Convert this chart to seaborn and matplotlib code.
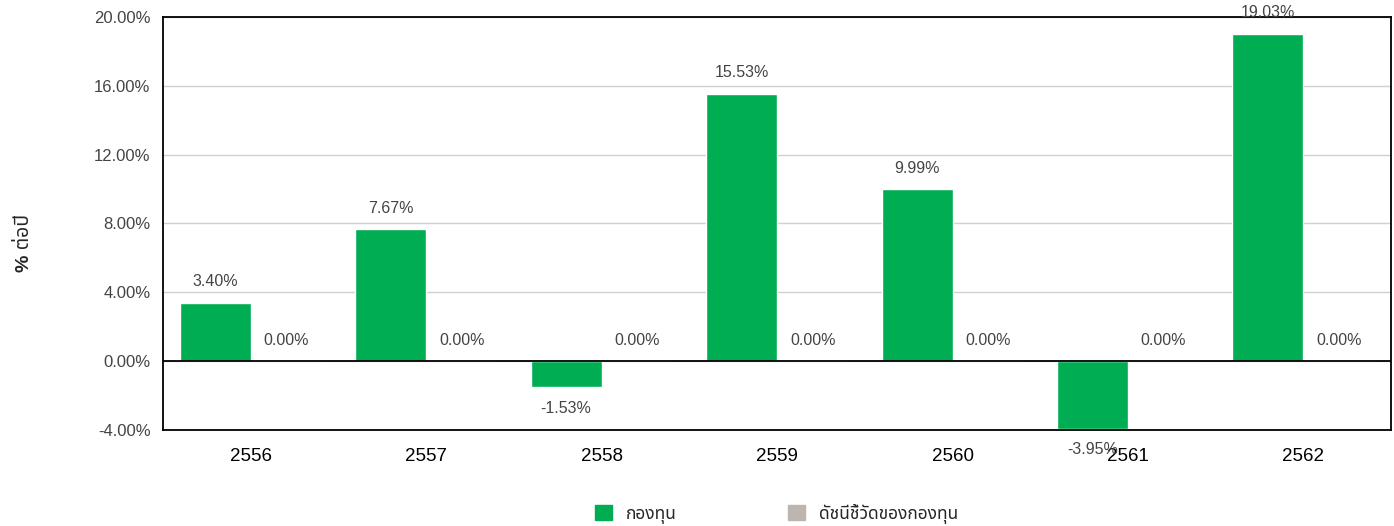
import matplotlib
matplotlib.use("Agg")
import matplotlib.pyplot as plt
import seaborn as sns
import pandas as pd

years = ["2556", "2557", "2558", "2559", "2560", "2561", "2562"]
fund = [3.40, 7.67, -1.53, 15.53, 9.99, -3.95, 19.03]
benchmark = [0.00, 0.00, 0.00, 0.00, 0.00, 0.00, 0.00]
series_names = ["กองทุน", "ดัชนีชี้วัดของกองทุน"]
y_ticks = [-4, 0, 4, 8, 12, 16, 20]
colors = ["#00AD52", "#BDB5AE"]

df = pd.DataFrame({
    "year": years * 2,
    "value": fund + benchmark,
    "series": [series_names[0]] * len(years) + [series_names[1]] * len(years),
})

sns.set_style("white")
plt.rcParams["font.family"] = ["Liberation Sans", "Noto Sans Thai", "DejaVu Sans"]

fig = plt.figure(figsize=(13.94, 5.26), dpi=100)
ax = fig.add_axes([0.117, 0.1825, 0.881, 0.7855])

sns.barplot(data=df, x="year", y="value", hue="series", palette=colors,
            saturation=1, width=0.81, ax=ax, legend=False)

ax.set_ylim(-4, 20)
ax.set_yticks(y_ticks)
ax.set_yticklabels([f"{t:.2f}%" for t in y_ticks], fontsize=12, color="#444444")
ax.tick_params(axis="x", labelsize=13.5, colors="black", length=0, pad=13)
ax.tick_params(axis="y", length=0, pad=9)
ax.grid(axis="y", color="#d0d0d0", linewidth=1)
ax.axhline(0, color="black", linewidth=1.3)
for s in ax.spines.values():
    s.set_color("black")
    s.set_linewidth(1.3)

ax.set_xlabel("")
ax.set_ylabel("% ต่อปี", fontsize=14, fontweight="bold")
ax.yaxis.set_label_coords(-0.106, 0.453)

# value labels
for container in ax.containers:
    for bar in container:
        h = bar.get_height()
        x = bar.get_x() + bar.get_width() / 2
        off = 15 if h >= 0 else -15
        ax.annotate(f"{h:.2f}%", (x, h), xytext=(0, off), textcoords="offset points",
                    ha="center", va="center", fontsize=11.5, color="#444444",
                    annotation_clip=False)

handles = [plt.Rectangle((0, 0), 1, 1, color=c) for c in colors]
fig.legend(handles, series_names, loc="lower center", bbox_to_anchor=(0.557, -0.025),
           ncol=2, frameon=False, fontsize=12.5, handlelength=1.0, handleheight=1.0,
           handletextpad=0.8, columnspacing=6.4)

fig.savefig("out.png", dpi=100)
